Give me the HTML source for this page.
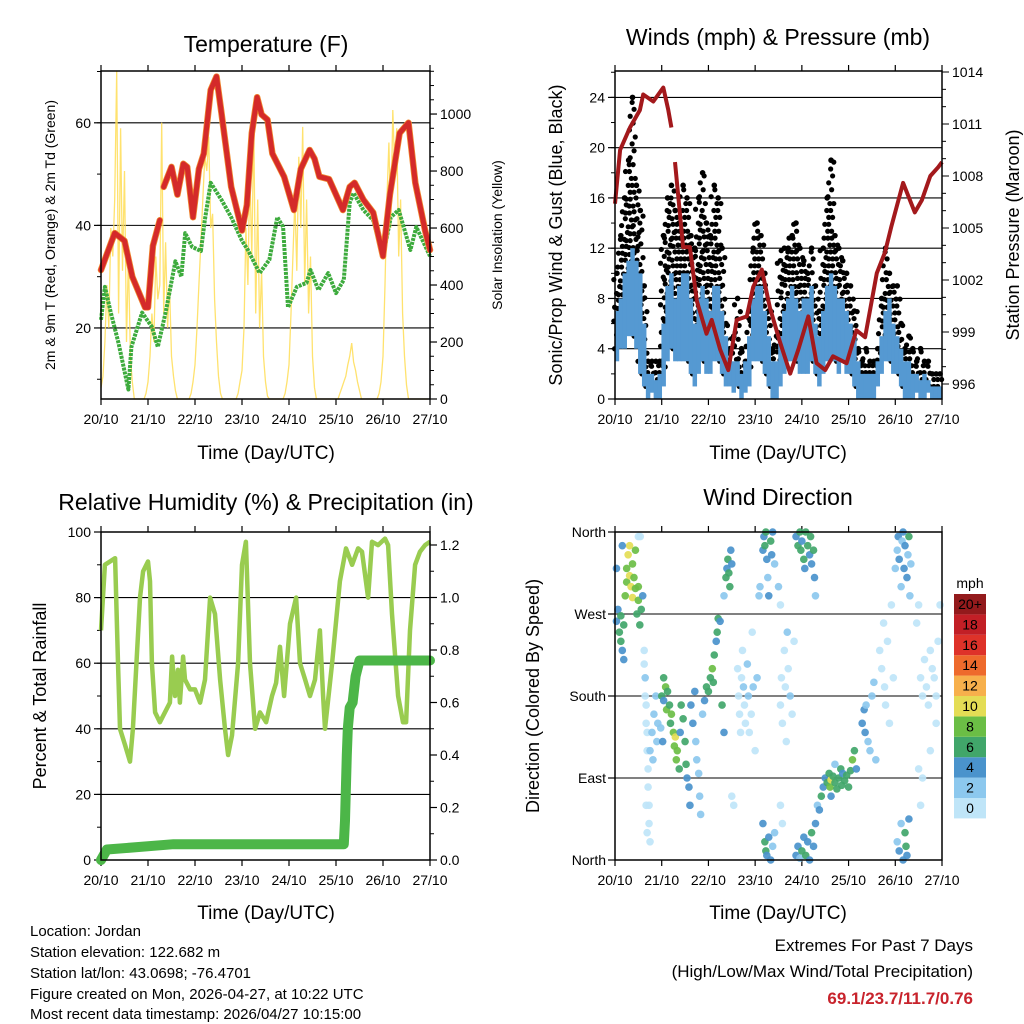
<!DOCTYPE html>
<html><head><meta charset="utf-8"><title>Weather station charts</title>
<style>
html,body{margin:0;padding:0;background:#fff;}
svg{display:block;font-family:"Liberation Sans",Arial,sans-serif;}
</style></head>
<body>
<svg id="root" width="1024" height="1024" viewBox="0 0 1024 1024" xmlns="http://www.w3.org/2000/svg">
<rect x="0" y="0" width="1024" height="1024" fill="#fff"/>
<text x="266" y="52" font-size="23" text-anchor="middle">Temperature (F)</text>
<text x="778" y="45" font-size="23" text-anchor="middle">Winds (mph) &amp; Pressure (mb)</text>
<text x="266" y="510" font-size="23" text-anchor="middle">Relative Humidity (%) &amp; Precipitation (in)</text>
<text x="778" y="505" font-size="23" text-anchor="middle">Wind Direction</text>
<text x="266" y="459" font-size="19" text-anchor="middle">Time (Day/UTC)</text>
<text x="778" y="459" font-size="19" text-anchor="middle">Time (Day/UTC)</text>
<text x="266" y="919" font-size="19" text-anchor="middle">Time (Day/UTC)</text>
<text x="778" y="919" font-size="19" text-anchor="middle">Time (Day/UTC)</text>
<text transform="translate(55,235) rotate(-90)" font-size="14" text-anchor="middle">2m &amp; 9m T (Red, Orange) &amp; 2m Td (Green)</text>
<text transform="translate(502,235) rotate(-90)" font-size="14" text-anchor="middle">Solar Insolation (Yellow)</text>
<text transform="translate(562,235) rotate(-90)" font-size="18" text-anchor="middle">Sonic/Prop Wind &amp; Gust (Blue, Black)</text>
<text transform="translate(1019,235) rotate(-90)" font-size="18" text-anchor="middle">Station Pressure (Maroon)</text>
<text transform="translate(46,696) rotate(-90)" font-size="18" text-anchor="middle">Percent &amp; Total Rainfall</text>
<text transform="translate(539,696) rotate(-90)" font-size="18" text-anchor="middle">Direction (Colored By Speed)</text>
<g font-size="15">
<text x="30" y="936">Location: Jordan</text>
<text x="30" y="957">Station elevation: 122.682 m</text>
<text x="30" y="978">Station lat/lon: 43.0698; -76.4701</text>
<text x="30" y="999">Figure created on Mon, 2026-04-27, at 10:22 UTC</text>
<text x="30" y="1019">Most recent data timestamp: 2026/04/27 10:15:00</text>
</g>
<g text-anchor="end" font-size="17">
<text x="973" y="951">Extremes For Past 7 Days</text>
<text x="973" y="977">(High/Low/Max Wind/Total Precipitation)</text>
<text x="973" y="1004" font-weight="bold" fill="#c8232c">69.1/23.7/11.7/0.76</text>
</g>
</svg>
<script>
// ---------- data ----------
const dayLabels=["20/10","21/10","22/10","23/10","24/10","25/10","26/10","27/10"];
const tempHours=[0,7,12,16,22.5,24,26.5,30,null,32,36,39,42,44,47,50,52.5,56,59,61.5,66.5,72,74.5,77,79.7,82,85,87.5,93.5,98.5,102,106.5,109,111.5,116.5,123.5,127,129.5,134,139,144,147.5,152.5,157,160.5,165.5,168];
const tempF=[31.3,38.5,37,30,24,24,36,41,null,47.5,51.4,46,52,51.4,41.6,51,54,66.4,69,62,47.5,39,44,58,65,61.6,60.6,54,49.5,43,51,54.7,53,49.5,49,43,47.5,48.3,45,42.5,34,46,58,60,48.3,39,35.2];
const dewHours=[0,2,5,9,14,15.5,21,26,29,33,38,41,43,46.5,51,53,56,61.5,66.5,72,75,81,86,90,93,95.5,100,105,107,111,116,120,124,127,129,134,139,144,148,152,158,161,168];
const dewF=[21.6,28,23,17,8,16.3,23,20.2,16.3,23,33,30,38.5,35.8,35,41,48.3,45,41.6,37,35.2,30.7,33.3,41.6,39.7,24,28,28.8,31.3,27.4,30.7,26.8,29.4,44.4,46.3,43,41,34,41.6,43,35.2,39.7,34];
const solar=[40,80,200,400,250,600,500,700,1150,300,950,450,800,200,500,150,60,0,0,0,0,0,0,20,
60,150,300,200,500,350,400,970,300,550,250,400,150,80,30,0,0,0,0,0,0,0,20,60,
120,250,400,550,700,850,800,920,600,650,350,200,80,20,0,0,0,0,0,0,0,0,20,60,
100,250,600,400,800,500,955,300,700,250,450,150,60,10,0,0,0,0,0,0,0,0,20,60,
120,300,500,700,450,850,600,955,400,700,300,500,150,40,0,0,0,0,0,0,0,0,0,0,
0,0,20,40,60,80,120,150,196,130,100,60,30,0,0,0,0,0,0,0,0,0,20,60,
150,400,700,900,600,1014,800,950,500,700,300,150,50,0,0,0,0,0,0,0,0,0,0,0];
const gustMax=[10,13,16,19,24,17,15,9,3,3,3,3,13,16,17,15,14,17,16,13,12,16,18,14,13,17,16,12,6,4,5,8,4,3,7,12,14,13,10,7,4,5,11,12,12,13,14,12,11,10,12,9,7,12,16,19,13,12,11,10,9,7,4,3,4,3,3,4,8,12,10,9,9,6,4,5,4,3,4,3,3,2,2,2];
const windMax=[7,8,10,11,12,11,10,6,2,2,1.5,2,6,9,10,8,9,10,10,8,6,8,9,8,7,9,9,7,5,3,3,3,2,3,5,8,9,9,7,5,3,3,5,7,8,9,8,7,8,8,9,6,5,7,9,10,9,8,8,7,6,5,3,2,2,2,2,3,5,7,8,6,5,4,3,3,2,2,1.5,2,1.5,1,1,1];
const windMin=[3,4,4,5,5,4,2,1,0,0.5,0,0,1,3,4,3,3,3,3,2,1,2,3,2,2,3,3,2,1,1,0.5,1,0,0.5,1,3,3,3,2,1,0,0,1,2,3,3,3,2,2,2,3,2,1,2,3,3,3,2,3,2,2,1,0,0,0,0,0,1,2,3,3,2,2,1,0,0,0,0.5,0,0,0.5,0,0,0];
const presHours=[0,2.6,7.7,12.8,14.5,19.7,24.8,27.4,29,null,30.8,35,38.5,42,47,49.7,54,58.2,62.5,67.7,71,75.4,79.6,84.8,90,94.2,99.3,103.6,108,112,119,124,128.5,134.5,138.7,142,148,154,157.6,162,166,168];
const presMb=[1006.4,1009.5,1010.8,1011.8,1012.7,1012.3,1013.1,1011.8,1010.8,null,1008.8,1003.9,1003.9,1000.8,998.9,999.7,998,996.8,999.7,999.9,1001.6,1002.6,1000.4,998.4,996.6,998,999.9,997.2,996.8,997.6,997.2,999.1,998.7,1002.4,1003.6,1005.1,1007.6,1005.9,1006.6,1008,1008.5,1008.8];
const rhHours=[0,2,7.2,8.7,9.7,12.3,14.8,16.3,19.9,21.5,24,25,26,27.6,30.1,35.2,36.3,37.8,39.3,40.3,41.9,42.9,45.5,48,50.6,53.1,55.7,58.2,60.8,63.3,64.9,66.9,70,72,74,76.1,78.7,81.2,84.3,87.3,89.4,91.4,93.5,96.5,99.6,101.6,104.2,106.7,109.3,111.8,113.4,114.4,118,122,125.1,128.2,131.3,133.3,136.4,138.4,141.5,145,146.6,148.6,151.7,154.2,155.8,157.8,160.4,162.9,165.5,168];
const rhPct=[70,90,92,60,40,35,30,40,80,88,91,85,60,45,42,48,62,50,58,48,62,55,52,52,48,55,80,75,55,40,32,38,60,90,97,60,40,45,42,50,54,65,50,72,80,60,55,50,55,70,50,40,60,85,95,90,95,94,80,97,96,98,96,75,50,42,42,70,90,94,96,97];
const rainHours=[0,3,20,37,124,124.6,125.5,126,127,128.5,130,132,168];
const rainIn=[0,0.04,0.05,0.06,0.06,0.15,0.4,0.5,0.58,0.6,0.7,0.76,0.76];
const dirHours=[0.75,1.5,2.25,3,3,3.75,4.5,5.25,6,6,6.75,7.5,7.5,8.25,9,9,9.75,10.5,10.5,11.25,12,12,12.75,13.5,14.25,4.5,3.75,0.75,
15,15,15.5,15.5,16,16,16.5,16.5,17,17,17.5,17.5,18,16,16.5,18,19,19.5,20,21,21.5,22,12,13,
24,25,25,26,26.5,27,28,28.5,29,30,30.5,31,31.5,32,33,33.5,34,35,36,36.5,37,38,38.5,24.5,23.5,
39,40,41,41.5,42,43,43.5,44,45,46,47,
48,49,50,50.5,51,52,52.5,53,54,55,56,57,57.5,58,58.5,59,59.5,60,56,
63,63.5,64,64.5,65,65.5,66,66.5,67,68,68.5,69,70,70.5,71,72,73,74,74.5,60,61,
76,76.5,77,77.5,78,78.5,79,80,80.5,81,82,84,85,76,77,77.5,78,79,80,81,82,
85,85.5,86,87,87.5,88,88.5,89,90,91,92,85,86,
93,94,95,95.5,96,97,97.5,98,99,100,100.5,101,102,102.5,103,
93,94,95,96,97,98,99,100,101,102,103,104,105,106,
107,108,109,110,110.5,111,112,113,114,115,116,116.5,117,118,119,120,121,122,123,124,113,111,
127,128,128.5,129,130,131,132,133,134,
136,137,138,138.5,139,140,141,142,143,144,145,145.5,146,147,147.5,148,148.5,149,150,150.5,151,151.5,152,
145,146,147,148,149,149.5,150,151,
155,156,157,158,159,160,161,162,163,164,165,166,167,156,157,158,162,165];
const dirDeg=[262,275,250,240,268,230,258,290,305,320,335,345,312,300,325,288,310,298,340,270,285,300,258,275,290,220,345,320,
230,215,200,180,170,150,140,120,100,80,60,40,20,60,30,120,140,110,160,180,130,150,355,355,
180,200,175,190,165,185,170,150,160,140,125,135,110,120,100,140,170,155,130,105,90,80,60,130,145,
170,150,185,130,110,95,70,50,160,175,190,
185,200,210,195,225,240,250,265,262,170,290,310,320,330,315,300,340,325,140,
210,180,160,140,200,230,190,170,150,215,180,140,160,250,190,120,200,290,300,70,60,
340,355,345,360,330,310,290,350,335,360,325,300,280,40,20,10,5,25,0,15,30,
170,200,150,230,190,130,250,210,180,160,240,60,40,
355,345,360,340,350,330,320,360,345,335,355,325,340,310,290,
5,15,2,10,25,5,20,0,30,15,40,60,55,70,
80,90,85,95,80,88,92,85,78,90,100,82,95,87,93,80,98,110,120,100,105,70,
150,165,140,170,130,120,180,195,110,
230,210,260,190,170,240,150,280,200,320,340,355,330,300,350,360,320,345,310,335,355,290,325,
20,10,40,0,30,15,5,45,
260,280,200,180,220,190,170,230,210,200,150,240,280,100,60,90,120,180];
const dirSpeed=[4,5,6,6,7,5,6,8,9,9,10,10,11,10,9,10,8,9,8,7,8,9,7,6,5,4,5,4,
1,1,2,1,1,0,1,1,0,0,1,0,0,0,1,2,2,2,3,3,2,2,0,0,
6,7,5,8,9,7,7,6,8,8,9,10,8,8,6,5,7,6,7,6,5,4,4,4,3,
4,4,5,3,3,2,2,2,3,5,6,
6,7,8,6,6,5,6,6,4,7,3,6,5,6,7,7,5,5,4,
1,1,0,1,1,1,2,1,0,2,2,1,1,1,2,1,2,3,2,0,1,
4,5,7,6,4,3,5,6,4,5,2,2,1,4,6,7,4,4,5,3,2,
1,1,1,1,0,1,2,1,2,1,1,1,0,
5,6,7,6,5,7,4,6,7,5,6,5,7,4,3,
4,5,3,6,4,6,5,4,6,5,4,3,5,6,
4,5,6,7,8,10,6,7,6,6,6,7,5,6,6,7,6,8,6,5,3,4,
4,4,5,3,2,3,2,2,2,
1,1,1,1,0,1,1,1,1,2,3,4,4,3,3,4,4,5,4,3,6,2,3,
3,4,3,4,6,6,5,4,
1,1,1,1,1,0,1,1,1,0,1,0,1,1,1,0,1,1];
const speedColors=["#bfe5f8","#8cc8ee","#4a93cc","#41a66a","#6bbe45","#e4dd55","#f7b04c","#ee6a2c","#de3229","#c21f26","#931a1c"];
const speedLabels=["0","2","4","6","8","10","12","14","16","18","20+"];

// ---------- helpers ----------
const NS="http://www.w3.org/2000/svg";
const root=document.getElementById("root");
function mk(tag,attrs,parent){const e=document.createElementNS(NS,tag);for(const k in attrs)e.setAttribute(k,attrs[k]);(parent||root).appendChild(e);return e;}
function grp(name){const g=mk("g",{});


return g;}
function scale(d0,d1,r0,r1){return v=>r0+(v-d0)/(d1-d0)*(r1-r0);}
function linePath(xs,ys,fx,fy){let d="",pen=false;for(let i=0;i<xs.length;i++){if(xs[i]===null||ys[i]===null){pen=false;continue;}d+=(pen?"L":"M")+fx(xs[i]).toFixed(1)+","+fy(ys[i]).toFixed(1);pen=true;}return d;}

const panels={
 temp:{x0:101,x1:430,y0:71,y1:399},
 wind:{x0:615,x1:942,y0:71,y1:399},
 rh:{x0:101,x1:430,y0:532,y1:860},
 dir:{x0:615,x1:942,y0:532,y1:860}};

function timeAxis(p,name){
 const fx=scale(0,168,p.x0,p.x1);
 const g=grp(name);
 for(let i=0;i<dayLabels.length;i++){
  const x=fx(i*24);
  mk("line",{x1:x,y1:p.y1,x2:x,y2:p.y1+6,stroke:"#000","stroke-width":1.2},g);
  mk("line",{x1:x,y1:p.y0,x2:x,y2:p.y0-6,stroke:"#000","stroke-width":1.2},g);
  const t=mk("text",{x:x,y:p.y1+25,"font-size":14,"text-anchor":"middle"},g);
  t.textContent=dayLabels[i];
  
  
 }
 return fx;
}
function yAxis(p,side,d0,d1,ticks,minorStep,fmt,name,grid){
 const fy=scale(d0,d1,p.y1,p.y0);
 const g=grp(name);
 const x=side==="left"?p.x0:p.x1, dir=side==="left"?-1:1;
 if(minorStep){for(let v=Math.ceil(d0/minorStep)*minorStep;v<=d1+1e-9;v+=minorStep){const y=fy(v);mk("line",{x1:x,y1:y,x2:x+dir*4,y2:y,stroke:"#000","stroke-width":1},g);}}
 ticks.forEach(v=>{const y=fy(v);
  mk("line",{x1:x,y1:y,x2:x+dir*7,y2:y,stroke:"#000","stroke-width":1.2},g);
  if(grid)mk("line",{x1:p.x0,y1:y,x2:p.x1,y2:y,stroke:"#000","stroke-width":1.1},g);
  const t=mk("text",{x:x+dir*10,y:y+5,"font-size":14,"text-anchor":side==="left"?"end":"start"},g);
  t.textContent=fmt(v);
  
  
 });
 return fy;
}
function frame(p,name){const r=mk("rect",{x:p.x0,y:p.y0,width:p.x1-p.x0,height:p.y1-p.y0,fill:"none",stroke:"#000","stroke-width":1.5});
 
 }

// ---------- panel 1: temperature ----------
{const p=panels.temp;
 const fx=timeAxis(p,"temp-time-axis");
 const fy=yAxis(p,"left",6.15,70.1,[20,40,60],10,v=>v,"temp-left-axis",true);
 const fs=yAxis(p,"right",0,1151,[0,200,400,600,800,1000],50,v=>v,"solar-right-axis",false);
 const sol=mk("path",{d:linePath(solar.map((v,i)=>i),solar,fx,fs),fill:"none",stroke:"#ffdd55","stroke-width":1.3,"stroke-opacity":0.85});
 
 
 const dw=mk("path",{d:linePath(dewHours,dewF,fx,fy),fill:"none",stroke:"#3dab3d","stroke-width":4,"stroke-dasharray":"3 1","stroke-linejoin":"round"});
 
 
 const to=mk("path",{d:linePath(tempHours,tempF,fx,fy),fill:"none",stroke:"#f08a30","stroke-width":6.5,"stroke-linejoin":"round","stroke-linecap":"round"});
 
 
 const tr=mk("path",{d:linePath(tempHours,tempF,fx,fy),fill:"none",stroke:"#d42a2a","stroke-width":5,"stroke-linejoin":"round","stroke-linecap":"round"});
 
 
 frame(p,"temp-plot-frame");}

// ---------- panel 2: winds ----------
{const p=panels.wind;
 const fx=timeAxis(p,"wind-time-axis");
 const fy=yAxis(p,"left",0,26.1,[0,4,8,12,16,20,24],2,v=>v,"wind-left-axis",true);
 const fp=scale(996,1014,384,72);
 const gr=grp("pressure-right-axis");
 for(let v=995;v<=1015;v++){const y=fp(v);if(y<p.y0||y>p.y1)continue;
  mk("line",{x1:p.x1,y1:y,x2:p.x1+((v-996)%3===0?7:4),y2:y,stroke:"#000","stroke-width":1},gr);
  if((v-996)%3===0){const t=mk("text",{x:p.x1+10,y:y+5,"font-size":14},gr);t.textContent=v;
   
   }}
 const gg=grp("gust-points");
 const offs=[-1.2,0.8,-0.2,1.4,-1.6,0.3];
 gustMax.forEach((gv,i)=>{let k=0;for(let v=windMin[i]+1;v<=gv+0.01;v+=0.55){const c=mk("circle",{cx:fx(i*2+1+offs[k%6]),cy:fy(v),r:2.6,fill:"#000"},gg);k++;
  }
  mk("circle",{cx:fx(i*2+1),cy:fy(gv),r:2.8,fill:"#000"},gg);});
 const wb=grp("wind-speed-band");
 windMax.forEach((wv,i)=>{const r=mk("rect",{x:fx(i*2)-0.3,y:fy(wv),width:fx(2)-fx(0)+0.6,height:Math.max(1,fy(windMin[i])-fy(wv)),fill:"#5599d2"},wb);
  });
 const pr=mk("path",{d:linePath(presHours,presMb,fx,fp),fill:"none",stroke:"#a3191c","stroke-width":4,"stroke-linejoin":"round"});
 
 
 frame(p,"wind-plot-frame");}

// ---------- panel 3: RH & precip ----------
{const p=panels.rh;
 const fx=timeAxis(p,"rh-time-axis");
 const fy=yAxis(p,"left",0,100,[0,20,40,60,80,100],10,v=>v,"rh-left-axis",true);
 const fr=yAxis(p,"right",0,1.2495,[0,0.2,0.4,0.6,0.8,1.0,1.2],0.1,v=>v.toFixed(1),"rain-right-axis",false);
 const rh=mk("path",{d:linePath(rhHours,rhPct,fx,fy),fill:"none",stroke:"#99cc50","stroke-width":4.5,"stroke-linejoin":"round"});
 
 
 const rn=mk("path",{d:linePath(rainHours,rainIn,fx,fr),fill:"none",stroke:"#4cb648","stroke-width":10,"stroke-linejoin":"round","stroke-linecap":"round"});
 
 
 frame(p,"rh-plot-frame");}

// ---------- panel 4: wind direction ----------
{const p=panels.dir;
 const fx=timeAxis(p,"dir-time-axis");
 const fy=scale(0,360,p.y1,p.y0);
 const ga=grp("direction-axis");
 [["North",0],["East",90],["South",180],["West",270],["North",360]].forEach(([n,v])=>{const y=fy(v);
  mk("line",{x1:p.x0,y1:y,x2:p.x1,y2:y,stroke:"#000","stroke-width":1.1},ga);
  mk("line",{x1:p.x0,y1:y,x2:p.x0-7,y2:y,stroke:"#000","stroke-width":1.2},ga);
  const t=mk("text",{x:p.x0-9,y:y+5,"font-size":14,"text-anchor":"end"},ga);t.textContent=n;
  
  });
 const gd=grp("direction-points");
 dirHours.forEach((h,i)=>{const ci=Math.min(10,Math.floor(dirSpeed[i]/2));
  const c=mk("circle",{cx:fx(h),cy:fy(dirDeg[i]),r:3.8,fill:speedColors[ci],"fill-opacity":0.92},gd);
  
  });
 frame(p,"dir-plot-frame");
 const cb=grp("speed-colorbar");
 const t0=mk("text",{x:970,y:588,"font-size":14,"text-anchor":"middle"},cb);t0.textContent="mph";
 
 
 for(let i=0;i<11;i++){const y=594+(10-i)*20.4;
  const r=mk("rect",{x:954,y:y,width:32,height:20.4,fill:speedColors[i]},cb);
  
  
  const t=mk("text",{x:970,y:y+15,"font-size":14,"text-anchor":"middle"},cb);t.textContent=speedLabels[i];
  
  }
}
</script>
</body></html>
